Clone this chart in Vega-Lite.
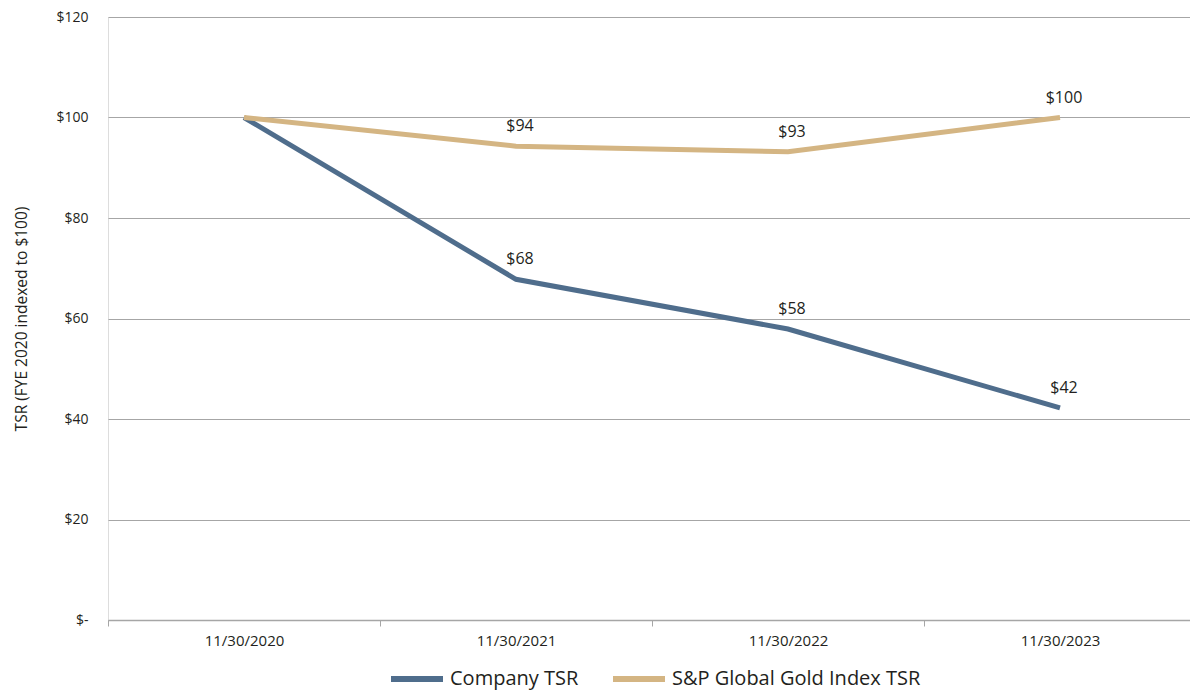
{
  "$schema": "https://vega.github.io/schema/vega-lite/v6.json",
  "autosize": "none",
  "width": 1082,
  "height": 603,
  "padding": {"left": 108, "top": 17, "right": 0, "bottom": 72},
  "background": "white",
  "data": {
    "values": [
      {"date": "11/30/2020", "series": "Company TSR", "value": 100},
      {"date": "11/30/2021", "series": "Company TSR", "value": 67.8},
      {"date": "11/30/2022", "series": "Company TSR", "value": 57.9},
      {"date": "11/30/2023", "series": "Company TSR", "value": 42.2},
      {"date": "11/30/2020", "series": "S&P Global Gold Index TSR", "value": 100},
      {"date": "11/30/2021", "series": "S&P Global Gold Index TSR", "value": 94.3},
      {"date": "11/30/2022", "series": "S&P Global Gold Index TSR", "value": 93.2},
      {"date": "11/30/2023", "series": "S&P Global Gold Index TSR", "value": 100}
    ]
  },
  "encoding": {
    "x": {
      "field": "date",
      "type": "ordinal",
      "sort": null,
      "scale": {"type": "band", "paddingInner": 0, "paddingOuter": 0, "range": [0, 1088]},
      "axis": {
        "title": null,
        "labelAngle": 0,
        "tickBand": "extent",
        "tickSize": 6,
        "tickColor": "#a6a6a6",
        "domainColor": "#a6a6a6",
        "domainWidth": 1.5,
        "labelPadding": 7,
        "labelFont": "Open Sans",
        "labelFontSize": 15,
        "labelColor": "#231f20",
        "grid": false
      }
    },
    "y": {
      "field": "value",
      "type": "quantitative",
      "scale": {"domain": [0, 120], "nice": false, "zero": true},
      "axis": {
        "title": "TSR (FYE 2020 indexed to $100)",
        "titleFont": "Open Sans",
        "titleFontSize": 15.5,
        "titleFontWeight": "normal",
        "titleColor": "#231f20",
        "titlePadding": 26,
        "values": [0, 20, 40, 60, 80, 100, 120],
        "labelExpr": "datum.value == 0 ? '$-' : '$' + datum.value",
        "labelFont": "Open Sans",
        "labelFontSize": 14,
        "labelColor": "#231f20",
        "labelPadding": 20,
        "ticks": false,
        "domain": false,
        "grid": true,
        "gridColor": "#a6a6a6",
        "gridWidth": 1.2
      }
    }
  },
  "layer": [
    {
      "mark": {"type": "line", "strokeWidth": 5, "strokeCap": "butt"},
      "encoding": {
        "color": {
          "field": "series",
          "type": "nominal",
          "scale": {"domain": ["Company TSR", "S&P Global Gold Index TSR"], "range": ["#4f6d8c", "#d4b583"]},
          "legend": {
            "title": null,
            "orient": "none",
            "legendX": 280,
            "legendY": 633,
            "padding": 0,
            "direction": "horizontal",
            "symbolType": "stroke",
            "symbolSize": 2704,
            "symbolStrokeWidth": 6,
            "labelFont": "Open Sans",
            "labelFontSize": 20,
            "labelLimit": 400,
            "labelColor": "#231f20",
            "labelOffset": 4,
            "columnPadding": 22
          }
        }
      }
    },
    {
      "transform": [{"filter": "datum.date != '11/30/2020'"}],
      "mark": {"type": "text", "dy": -20, "dx": 4, "font": "Open Sans", "fontSize": 16, "color": "#231f20"},
      "encoding": {
        "text": {"field": "value", "type": "quantitative", "format": "$.0f"}
      }
    }
  ]
}
